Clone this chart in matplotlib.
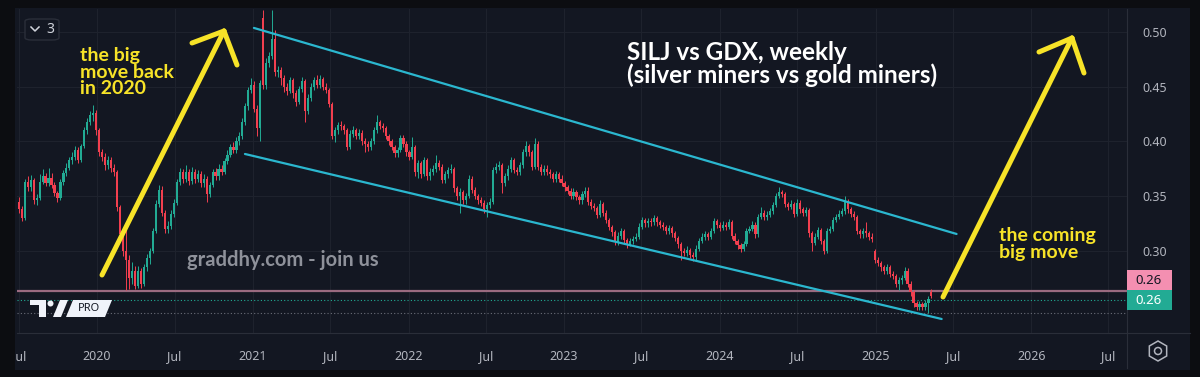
import numpy as np
import pandas as pd
import matplotlib
matplotlib.use('Agg')
import matplotlib.pyplot as plt
import matplotlib.dates as mdates
from matplotlib.ticker import FuncFormatter, FixedLocator
from matplotlib.patches import Rectangle, Polygon, FancyBboxPatch, RegularPolygon, Circle
from matplotlib.lines import Line2D
from matplotlib.transforms import IdentityTransform

# ─────────────────────────────────────────────
# data: SILJ/GDX weekly candles (values x 1000)
# ─────────────────────────────────────────────
START_WEEK = '2019-07-01'

CLOSES = [
    338, 330, 363, 358, 365, 346, 348, 363, 368, 362,
    367, 360, 353, 348, 363, 371, 376, 383, 386, 392,
    383, 396, 410, 418, 424, 426, 410, 390, 386, 378,
    383, 376, 372, 340, 315, 300, 292, 275, 282, 268,
    282, 270, 285, 293, 300, 318, 343, 356, 335, 320,
    323, 334, 344, 363, 372, 366, 372, 364, 372, 366,
    370, 362, 366, 352, 360, 372, 368, 375, 372, 382,
    388, 395, 392, 400, 405, 418, 432, 447, 452, 430,
    412, 453, 452, 472, 478, 494, 463, 465, 458, 450,
    446, 456, 444, 436, 448, 455, 428, 440, 450, 456,
    452, 457, 450, 447, 434, 405, 410, 415, 414, 410,
    395, 407, 410, 405, 408, 400, 398, 395, 400, 410,
    418, 414, 412, 405, 400, 395, 389, 392, 403, 398,
    390, 386, 395, 372, 380, 370, 383, 368, 372, 375,
    380, 377, 365, 370, 374, 375, 357, 350, 354, 346,
    350, 366, 356, 350, 346, 344, 338, 342, 345, 374,
    377, 378, 362, 368, 375, 383, 374, 372, 378, 390,
    396, 390, 377, 398, 377, 372, 375, 372, 370, 366,
    370, 366, 362, 358, 355, 350, 354, 349, 346, 352,
    355, 345, 341, 339, 333, 343, 335, 328, 322, 317,
    308, 314, 318, 310, 306, 309, 311, 313, 322, 328,
    325, 327, 326, 330, 326, 324, 322, 318, 321, 316,
    312, 306, 300, 298, 301, 296, 294, 302, 309, 313,
    315, 313, 318, 327, 324, 321, 324, 322, 326, 314,
    309, 305, 302, 306, 318, 320, 324, 315, 331, 335,
    331, 333, 336, 342, 350, 354, 352, 343, 340, 343,
    334, 344, 338, 335, 337, 316, 307, 313, 319, 309,
    300, 318, 320, 328, 331, 334, 336, 345, 338, 334,
    331, 318, 315, 318, 316, 313, 311, 292, 289, 285,
    282, 285, 279, 277, 270, 273, 275, 282, 270, 262,
    252, 249, 251, 249, 252, 256, 259,
]

HIGHS = [
    349, 341, 366, 368, 369, 367, 352, 370, 375, 371,
    376, 371, 363, 355, 366, 374, 380, 386, 390, 396,
    395, 398, 413, 421, 428, 433, 429, 412, 393, 389,
    387, 386, 379, 374, 342, 318, 320, 296, 290, 286,
    286, 284, 288, 297, 303, 321, 346, 360, 359, 337,
    327, 337, 347, 366, 376, 375, 378, 375, 377, 375,
    374, 373, 370, 368, 363, 375, 376, 379, 378, 385,
    392, 398, 399, 404, 409, 421, 435, 450, 458, 455,
    433, 456, 520, 476, 482, 520, 502, 469, 468, 461,
    453, 459, 458, 447, 451, 459, 457, 443, 453, 459,
    461, 461, 459, 453, 449, 436, 413, 418, 419, 416,
    412, 410, 414, 412, 411, 410, 403, 400, 403, 413,
    424, 420, 417, 414, 407, 402, 397, 395, 406, 406,
    400, 392, 404, 397, 383, 382, 386, 385, 376, 378,
    388, 383, 379, 373, 377, 379, 377, 359, 357, 356,
    353, 369, 368, 358, 352, 349, 346, 345, 348, 377,
    380, 382, 380, 371, 378, 386, 385, 377, 381, 393,
    400, 398, 392, 403, 400, 379, 378, 378, 375, 372,
    373, 372, 369, 364, 360, 357, 357, 356, 351, 355,
    358, 358, 347, 344, 341, 346, 345, 337, 330, 324,
    319, 317, 321, 320, 312, 312, 314, 316, 325, 331,
    330, 330, 330, 333, 332, 328, 326, 324, 324, 323,
    318, 314, 308, 303, 304, 303, 299, 305, 312, 316,
    318, 317, 321, 330, 329, 326, 327, 326, 329, 328,
    316, 311, 307, 309, 321, 323, 327, 326, 334, 340,
    337, 336, 339, 345, 353, 358, 356, 354, 345, 346,
    345, 347, 346, 340, 340, 339, 318, 316, 322, 321,
    311, 321, 323, 331, 334, 337, 339, 350, 347, 340,
    336, 333, 320, 321, 326, 318, 316, 302, 294, 291,
    287, 288, 287, 282, 279, 276, 278, 285, 284, 272,
    264, 254, 254, 253, 255, 259, 265,
]

LOWS = [
    335, 327, 328, 355, 355, 343, 342, 346, 361, 359,
    359, 357, 350, 345, 346, 360, 368, 374, 379, 383,
    380, 381, 394, 407, 415, 419, 406, 387, 382, 374,
    375, 372, 368, 336, 310, 295, 264, 265, 270, 265,
    266, 266, 268, 282, 288, 298, 316, 340, 332, 316,
    316, 320, 331, 342, 360, 362, 363, 360, 361, 362,
    363, 358, 358, 345, 349, 358, 365, 365, 369, 370,
    379, 386, 389, 389, 397, 402, 415, 429, 444, 427,
    405, 400, 448, 448, 468, 475, 460, 459, 452, 445,
    442, 444, 440, 432, 434, 445, 418, 425, 437, 447,
    449, 449, 447, 444, 431, 402, 399, 407, 410, 407,
    392, 393, 404, 402, 402, 397, 390, 391, 392, 398,
    408, 411, 409, 402, 397, 392, 386, 386, 390, 395,
    387, 383, 384, 368, 367, 367, 368, 365, 365, 369,
    372, 374, 362, 362, 367, 371, 354, 346, 335, 343,
    343, 348, 353, 347, 343, 341, 335, 331, 339, 343,
    371, 374, 353, 359, 365, 372, 371, 369, 369, 376,
    387, 387, 374, 375, 374, 369, 369, 369, 367, 363,
    363, 363, 359, 355, 352, 347, 347, 346, 343, 343,
    349, 342, 338, 336, 330, 331, 332, 325, 319, 314,
    305, 305, 311, 307, 303, 304, 306, 309, 311, 320,
    322, 322, 323, 324, 323, 321, 319, 315, 315, 313,
    309, 303, 292, 295, 295, 293, 291, 292, 300, 307,
    310, 310, 311, 316, 321, 318, 319, 319, 320, 311,
    306, 302, 299, 300, 304, 316, 318, 312, 313, 329,
    328, 328, 331, 334, 340, 348, 349, 340, 337, 338,
    331, 332, 335, 332, 332, 313, 300, 305, 311, 306,
    297, 298, 316, 318, 326, 329, 332, 334, 335, 331,
    328, 315, 312, 312, 313, 310, 308, 289, 286, 282,
    279, 279, 276, 274, 267, 264, 270, 273, 267, 259,
    249, 246, 246, 246, 246, 243, 257,
]

# weeks where the open is not the previous close (index: open)
GAP_OPENS = {0: 345, 82: 513, 287: 300, 306: 262.5}

# drawn channel + horizontal levels
UPPER_CHANNEL = (['2021-01-03', '2025-07-10'], [0.5037, 0.3154])
LOWER_CHANNEL = (['2020-12-13', '2025-06-05'], [0.3885, 0.2377])
PINK_LEVEL = 0.263
LAST_PRICE = 0.2555
GRAY_LEVEL = 0.243
Y_TICKS = [0.30, 0.35, 0.40, 0.45, 0.50]
X_RANGE = ('2019-06-27', '2026-08-14')
Y_RANGE = (0.2249, 0.521)

# ─────────────────────────────────────────────
# style
# ─────────────────────────────────────────────
W, H = 1200, 377
BG = '#131722'
OUTER = '#0c0d11'
UP = '#22ab94'
DOWN = '#f23f4f'
CYAN = '#2bb7cf'
YELLOW = '#f7e328'
AXIS_TXT = '#b2b5be'
plt.rcParams['font.family'] = ['Noto Sans', 'DejaVu Sans']
NOTE_FONT = ['Lato', 'DejaVu Sans']


def fx(x):
    return x / W


def fy(y):
    return 1 - y / H


closes = np.array(CLOSES, dtype=float) / 1000
highs = np.array(HIGHS, dtype=float) / 1000
lows = np.array(LOWS, dtype=float) / 1000
opens = np.array([GAP_OPENS[i] / 1000 if i in GAP_OPENS else closes[i - 1]
                  for i in range(len(closes))])
dates = pd.date_range(START_WEEK, periods=len(closes), freq='7D')
xd = mdates.date2num(dates.to_pydatetime())

fig = plt.figure(figsize=(W / 100, H / 100), dpi=100, facecolor=OUTER)
# chart panel
fig.add_artist(Rectangle((fx(15), fy(370)), fx(1175), (370 - 8) / H,
                         transform=fig.transFigure, facecolor=BG, edgecolor='none', zorder=-5))

ax = fig.add_axes([fx(17), fy(333), fx(1127 - 17), (333 - 9) / H])
ax.set_facecolor(BG)

# candles
up = closes >= opens
col = np.where(up, UP, DOWN)
body_lo = np.minimum(opens, closes)
body_h = np.maximum(np.abs(closes - opens), 0.0008)
ax.vlines(xd, lows, highs, colors=col, linewidth=0.7, zorder=3)
ax.bar(xd, body_h, bottom=body_lo, width=5.0, color=col, linewidth=0, zorder=4)

# channel lines
for dts, vals in (UPPER_CHANNEL, LOWER_CHANNEL):
    ax.plot(mdates.date2num(pd.to_datetime(dts).to_pydatetime()), vals,
            color=CYAN, lw=1.6, solid_capstyle='round', zorder=5)

# horizontal levels
ax.axhline(PINK_LEVEL, color='#9a6a80', lw=1.6, zorder=2)
ax.axhline(LAST_PRICE, color=UP, lw=0.8, ls=(0, (1, 2)), zorder=2)
ax.axhline(GRAY_LEVEL, color='#6a6d78', lw=0.8, ls=(0, (1, 2)), zorder=2)

ax.set_xlim(mdates.date2num(pd.Timestamp(X_RANGE[0])), mdates.date2num(pd.Timestamp(X_RANGE[1])))
ax.set_ylim(*Y_RANGE)

# axes / ticks
ax.xaxis.set_major_locator(mdates.MonthLocator(bymonth=[1, 7]))
ax.xaxis.set_major_formatter(FuncFormatter(
    lambda v, p: str(mdates.num2date(v).year) if mdates.num2date(v).month == 1 else 'Jul'))
ax.yaxis.set_major_locator(FixedLocator(Y_TICKS))
ax.yaxis.set_major_formatter(FuncFormatter(lambda v, p: f'{v:.2f}'))
ax.yaxis.tick_right()
ax.tick_params(axis='both', length=0, colors=AXIS_TXT, labelsize=9)
ax.tick_params(axis='x', pad=12)
ax.tick_params(axis='y', pad=11)
ax.grid(True, color='#1e222d', lw=0.8, zorder=0)
for s in ('top', 'left'):
    ax.spines[s].set_visible(False)
ax.spines['right'].set_color('#2a2e39')
ax.spines['bottom'].set_color('#2a2e39')

# separator lines of the panel
fig.add_artist(Line2D([fx(1127), fx(1127)], [fy(333), fy(368)], transform=fig.transFigure,
                      color='#2a2e39', lw=0.8))
fig.add_artist(Line2D([fx(1127), fx(1190)], [fy(333), fy(333)], transform=fig.transFigure,
                      color='#2a2e39', lw=0.8))

# price labels on the scale
for yc, fc, tc in ((280, '#f48fb1', '#131722'), (300, UP, 'white')):
    fig.add_artist(Rectangle((fx(1127), fy(yc + 10)), fx(45), 20 / H, transform=fig.transFigure,
                             facecolor=fc, edgecolor='none', zorder=6))
    fig.text(fx(1149), fy(yc), '0.26', color=tc, fontsize=9.5, ha='center', va='center', zorder=7)

# annotation texts
fig.text(fx(627), fy(52), 'SILJ vs GDX, weekly', color='white', fontsize=17.5,
         fontweight='bold', family=NOTE_FONT, ha='left', va='center')
fig.text(fx(627), fy(75), '(silver miners vs gold miners)', color='white', fontsize=17.5,
         fontweight='bold', family=NOTE_FONT, ha='left', va='center')
fig.text(fx(80), fy(72), 'the big\nmove back\nin 2020', color=YELLOW, fontsize=14,
         fontweight='bold', family=NOTE_FONT, ha='left', va='center', linespacing=0.95)
fig.text(fx(999), fy(244), 'the coming\nbig move', color=YELLOW, fontsize=14,
         fontweight='bold', family=NOTE_FONT, ha='left', va='center', linespacing=0.95)
fig.text(fx(187), fy(260), 'graddhy.com - join us', color='#8e919a', fontsize=14.5,
         fontweight='bold', family=NOTE_FONT, ha='left', va='center')

# yellow arrows (figure pixels)
ARROWS = [((102, 275), (224, 31), (192, 43), (237, 65)),
          ((943, 297), (1072, 38), (1039, 52), (1084, 73))]
for (x0, y0), (x1, y1), (hl, hr), (rl, rr) in ARROWS:
    for a, b in (((x0, y0), (x1, y1)), ((hl, hr), (x1, y1)), ((x1, y1), (rl, rr))):
        fig.add_artist(Line2D([fx(a[0]), fx(b[0])], [fy(a[1]), fy(b[1])], transform=fig.transFigure,
                              color=YELLOW, lw=3.6, solid_capstyle='round', zorder=8))

# interval box top-left
fig.add_artist(FancyBboxPatch((fx(25), fy(40)), fx(34), 21 / H, boxstyle='round,pad=0,rounding_size=0.006',
                              transform=fig.transFigure, facecolor=BG, edgecolor='#2a2e39', lw=1, zorder=6))
fig.add_artist(Line2D([fx(31), fx(35), fx(39)], [fy(27), fy(31), fy(27)], transform=fig.transFigure,
                      color='#d1d4dc', lw=1.1, zorder=7))
fig.text(fx(50), fy(29.5), '3', color='#d1d4dc', fontsize=10, ha='center', va='center', zorder=7)

# TradingView logo
logo = [
    [(30, 300), (46, 300), (46, 317), (39, 317), (39, 305), (30, 305)],
    [(53, 317), (60, 300), (68, 300), (61, 317)],
    [(66, 317), (73, 300), (112, 300), (105, 317)],
]
for pts in logo:
    fig.add_artist(Polygon([(fx(a), fy(b)) for a, b in pts], closed=True, transform=fig.transFigure,
                           facecolor='#f0f3fa', edgecolor='none', zorder=6))
fig.add_artist(Circle((50.5, H - 303.5), 3, transform=IdentityTransform(),
                      facecolor='#f0f3fa', edgecolor='none', zorder=6))
fig.text(fx(89), fy(308.5), 'PRO', color='#131722', fontsize=8, fontweight='bold',
         ha='center', va='center', zorder=7)

# settings icon (pixel coordinates)
fig.add_artist(RegularPolygon((1158, H - 351), 6, radius=10, orientation=0,
                              transform=IdentityTransform(), facecolor='none',
                              edgecolor=AXIS_TXT, lw=1.1))
fig.add_artist(Circle((1158, H - 351), 3.5, transform=IdentityTransform(),
                      facecolor='none', edgecolor=AXIS_TXT, lw=1.1))

# outer frame strips on top of everything (clips the half label at the left)
fig.add_artist(Rectangle((0, 0), fx(15), 1, transform=fig.transFigure, facecolor=OUTER,
                         edgecolor='none', zorder=20))
fig.add_artist(Rectangle((0, 0), 1, 7 / H, transform=fig.transFigure, facecolor=OUTER,
                         edgecolor='none', zorder=20))

fig.savefig('out.png', dpi=100, facecolor=OUTER)
